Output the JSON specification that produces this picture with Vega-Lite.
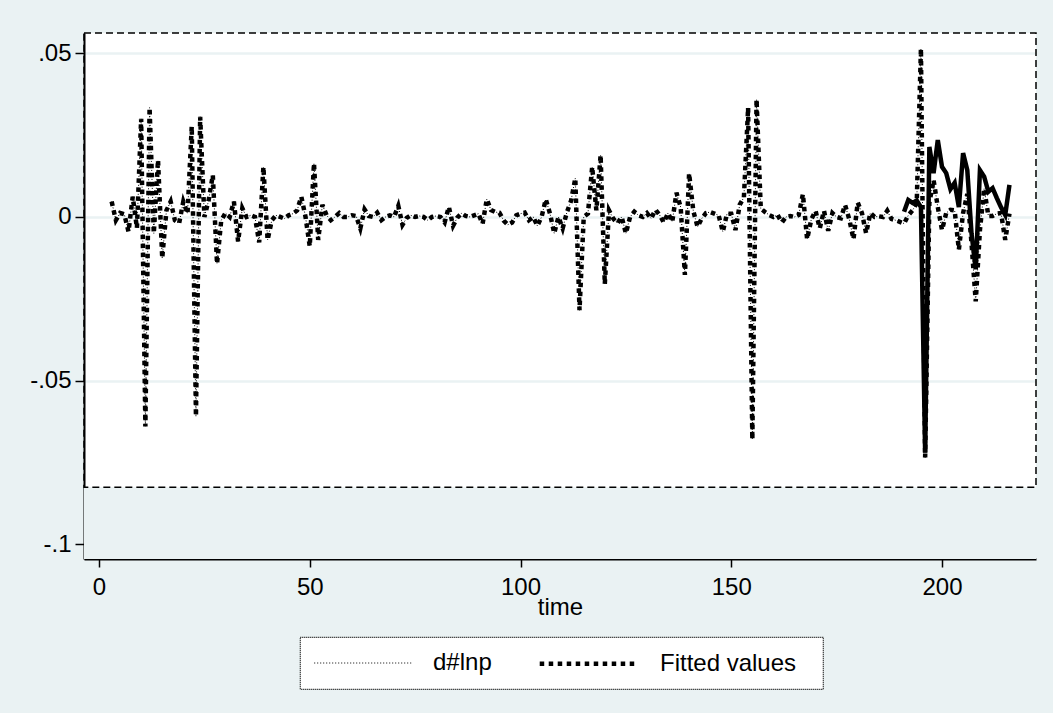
{
  "$schema": "https://vega.github.io/schema/vega-lite/v6.json",
  "width": 952,
  "height": 526,
  "autosize": {"type": "none"},
  "padding": {"left": 84, "top": 33, "right": 17, "bottom": 154},
  "background": "#EAF2F3",
  "config": {
    "font": "Liberation Sans",
    "view": {"stroke": null, "fill": "white"},
    "axis": {"labelColor": "black", "titleColor": "black", "domainColor": "black", "tickColor": "black", "labelFontSize": 24, "titleFontSize": 24, "titleFontWeight": "normal", "labelFont": "Liberation Sans", "titleFont": "Liberation Sans"},
    "legend": {"labelFont": "Liberation Sans"}
  },
  "data": {"values": [
    {"t":3,"d#lnp":0.0047,"Fitted values":0.0047},{"t":4,"d#lnp":-0.001,"Fitted values":-0.001},{"t":5,"d#lnp":0.0012,"Fitted values":0.0012},{"t":6,"d#lnp":0.0008,"Fitted values":0.0008},{"t":7,"d#lnp":-0.0045,"Fitted values":-0.0045},{"t":8,"d#lnp":0.0062,"Fitted values":0.0062},{"t":9,"d#lnp":-0.0034,"Fitted values":-0.0034},{"t":10,"d#lnp":0.030,"Fitted values":0.030},{"t":11,"d#lnp":-0.064,"Fitted values":-0.064},{"t":12,"d#lnp":0.0334,"Fitted values":0.0334},
    {"t":13,"d#lnp":-0.005,"Fitted values":-0.005},{"t":14,"d#lnp":0.0174,"Fitted values":0.0174},{"t":15,"d#lnp":-0.0126,"Fitted values":-0.0126},{"t":16,"d#lnp":0.002,"Fitted values":0.002},{"t":17,"d#lnp":0.0047,"Fitted values":0.0047},{"t":18,"d#lnp":-0.001,"Fitted values":-0.001},{"t":19,"d#lnp":-0.002,"Fitted values":-0.002},{"t":20,"d#lnp":0.0047,"Fitted values":0.0047},{"t":21,"d#lnp":0.001,"Fitted values":0.001},{"t":22,"d#lnp":0.0277,"Fitted values":0.0277},
    {"t":23,"d#lnp":-0.0609,"Fitted values":-0.0609},{"t":24,"d#lnp":0.0306,"Fitted values":0.0306},{"t":25,"d#lnp":0.0,"Fitted values":0.0},{"t":26,"d#lnp":0.005,"Fitted values":0.005},{"t":27,"d#lnp":0.0128,"Fitted values":0.0128},{"t":28,"d#lnp":-0.0143,"Fitted values":-0.0143},{"t":29,"d#lnp":-0.001,"Fitted values":-0.001},{"t":30,"d#lnp":0.0012,"Fitted values":0.0012},{"t":31,"d#lnp":0.0,"Fitted values":0.0},{"t":32,"d#lnp":0.0047,"Fitted values":0.0047},
    {"t":33,"d#lnp":-0.0075,"Fitted values":-0.0075},{"t":34,"d#lnp":0.0027,"Fitted values":0.0027},{"t":35,"d#lnp":0.0,"Fitted values":0.0},{"t":36,"d#lnp":0.0005,"Fitted values":0.0005},{"t":37,"d#lnp":0.0,"Fitted values":0.0},{"t":38,"d#lnp":-0.0078,"Fitted values":-0.0078},{"t":39,"d#lnp":0.0153,"Fitted values":0.0153},{"t":40,"d#lnp":-0.007,"Fitted values":-0.007},{"t":41,"d#lnp":-0.001,"Fitted values":-0.001},{"t":42,"d#lnp":0.0005,"Fitted values":0.0005},
    {"t":43,"d#lnp":0.0,"Fitted values":0.0},{"t":44,"d#lnp":-0.0005,"Fitted values":-0.0005},{"t":45,"d#lnp":0.0005,"Fitted values":0.0005},{"t":46,"d#lnp":0.001,"Fitted values":0.001},{"t":47,"d#lnp":0.002,"Fitted values":0.002},{"t":48,"d#lnp":0.0062,"Fitted values":0.0062},{"t":49,"d#lnp":0.0,"Fitted values":0.0},{"t":50,"d#lnp":-0.009,"Fitted values":-0.009},{"t":51,"d#lnp":0.0164,"Fitted values":0.0164},{"t":52,"d#lnp":-0.007,"Fitted values":-0.007},
    {"t":53,"d#lnp":0.0037,"Fitted values":0.0037},{"t":54,"d#lnp":0.0005,"Fitted values":0.0005},{"t":55,"d#lnp":-0.001,"Fitted values":-0.001},{"t":56,"d#lnp":0.0,"Fitted values":0.0},{"t":57,"d#lnp":0.0012,"Fitted values":0.0012},{"t":58,"d#lnp":0.0,"Fitted values":0.0},{"t":59,"d#lnp":0.0,"Fitted values":0.0},{"t":60,"d#lnp":0.0005,"Fitted values":0.0005},{"t":61,"d#lnp":0.0003,"Fitted values":0.0003},{"t":62,"d#lnp":-0.0035,"Fitted values":-0.0035},
    {"t":63,"d#lnp":0.0023,"Fitted values":0.0023},{"t":64,"d#lnp":0.0003,"Fitted values":0.0003},{"t":65,"d#lnp":0.0,"Fitted values":0.0},{"t":66,"d#lnp":0.0013,"Fitted values":0.0013},{"t":67,"d#lnp":-0.001,"Fitted values":-0.001},{"t":68,"d#lnp":0.0,"Fitted values":0.0},{"t":69,"d#lnp":0.0005,"Fitted values":0.0005},{"t":70,"d#lnp":0.0,"Fitted values":0.0},{"t":71,"d#lnp":0.0034,"Fitted values":0.0034},{"t":72,"d#lnp":-0.0024,"Fitted values":-0.0024},
    {"t":73,"d#lnp":-0.0003,"Fitted values":-0.0003},{"t":74,"d#lnp":0.0005,"Fitted values":0.0005},{"t":75,"d#lnp":0.0,"Fitted values":0.0},{"t":76,"d#lnp":0.0003,"Fitted values":0.0003},{"t":77,"d#lnp":0.0,"Fitted values":0.0},{"t":78,"d#lnp":-0.001,"Fitted values":-0.001},{"t":79,"d#lnp":0.0,"Fitted values":0.0},{"t":80,"d#lnp":0.0003,"Fitted values":0.0003},{"t":81,"d#lnp":0.0,"Fitted values":0.0},{"t":82,"d#lnp":-0.0017,"Fitted values":-0.0017},
    {"t":83,"d#lnp":0.0031,"Fitted values":0.0031},{"t":84,"d#lnp":-0.0027,"Fitted values":-0.0027},{"t":85,"d#lnp":-0.0002,"Fitted values":-0.0002},{"t":86,"d#lnp":0.0011,"Fitted values":0.0011},{"t":87,"d#lnp":0.0003,"Fitted values":0.0003},{"t":88,"d#lnp":0.0,"Fitted values":0.0},{"t":89,"d#lnp":0.0005,"Fitted values":0.0005},{"t":90,"d#lnp":0.001,"Fitted values":0.001},{"t":91,"d#lnp":-0.0021,"Fitted values":-0.0021},{"t":92,"d#lnp":0.0054,"Fitted values":0.0054},
    {"t":93,"d#lnp":0.0021,"Fitted values":0.0021},{"t":94,"d#lnp":0.0015,"Fitted values":0.0015},{"t":95,"d#lnp":0.0013,"Fitted values":0.0013},{"t":96,"d#lnp":-0.0011,"Fitted values":-0.0011},{"t":97,"d#lnp":-0.0024,"Fitted values":-0.0024},{"t":98,"d#lnp":-0.0017,"Fitted values":-0.0017},{"t":99,"d#lnp":0.0005,"Fitted values":0.0005},{"t":100,"d#lnp":0.001,"Fitted values":0.001},{"t":101,"d#lnp":0.0013,"Fitted values":0.0013},{"t":102,"d#lnp":-0.001,"Fitted values":-0.001},
    {"t":103,"d#lnp":0.0,"Fitted values":0.0},{"t":104,"d#lnp":-0.0027,"Fitted values":-0.0027},{"t":105,"d#lnp":0.0,"Fitted values":0.0},{"t":106,"d#lnp":0.0054,"Fitted values":0.0054},{"t":107,"d#lnp":0.001,"Fitted values":0.001},{"t":108,"d#lnp":-0.005,"Fitted values":-0.005},{"t":109,"d#lnp":0.0,"Fitted values":0.0},{"t":110,"d#lnp":-0.0035,"Fitted values":-0.0035},{"t":111,"d#lnp":0.0014,"Fitted values":0.0014},{"t":112,"d#lnp":0.005,"Fitted values":0.005},
    {"t":113,"d#lnp":0.0118,"Fitted values":0.0118},{"t":114,"d#lnp":-0.0285,"Fitted values":-0.0285},{"t":115,"d#lnp":0.0,"Fitted values":0.0},{"t":116,"d#lnp":0.001,"Fitted values":0.001},{"t":117,"d#lnp":0.0153,"Fitted values":0.0153},{"t":118,"d#lnp":0.002,"Fitted values":0.002},{"t":119,"d#lnp":0.0189,"Fitted values":0.0189},{"t":120,"d#lnp":-0.0205,"Fitted values":-0.0205},{"t":121,"d#lnp":0.002,"Fitted values":0.002},{"t":122,"d#lnp":-0.0005,"Fitted values":-0.0005},
    {"t":123,"d#lnp":-0.002,"Fitted values":-0.002},{"t":124,"d#lnp":0.0,"Fitted values":0.0},{"t":125,"d#lnp":-0.005,"Fitted values":-0.005},{"t":126,"d#lnp":0.0,"Fitted values":0.0},{"t":127,"d#lnp":0.0016,"Fitted values":0.0016},{"t":128,"d#lnp":0.0005,"Fitted values":0.0005},{"t":129,"d#lnp":0.0,"Fitted values":0.0},{"t":130,"d#lnp":0.0012,"Fitted values":0.0012},{"t":131,"d#lnp":-0.0005,"Fitted values":-0.0005},{"t":132,"d#lnp":0.0022,"Fitted values":0.0022},
    {"t":133,"d#lnp":0.0006,"Fitted values":0.0006},{"t":134,"d#lnp":-0.0017,"Fitted values":-0.0017},{"t":135,"d#lnp":0.0012,"Fitted values":0.0012},{"t":136,"d#lnp":-0.0015,"Fitted values":-0.0015},{"t":137,"d#lnp":0.0074,"Fitted values":0.0074},{"t":138,"d#lnp":0.003,"Fitted values":0.003},{"t":139,"d#lnp":-0.0177,"Fitted values":-0.0177},{"t":140,"d#lnp":0.0133,"Fitted values":0.0133},{"t":141,"d#lnp":0.0018,"Fitted values":0.0018},{"t":142,"d#lnp":-0.003,"Fitted values":-0.003},
    {"t":143,"d#lnp":-0.0005,"Fitted values":-0.0005},{"t":144,"d#lnp":0.0012,"Fitted values":0.0012},{"t":145,"d#lnp":0.0015,"Fitted values":0.0015},{"t":146,"d#lnp":0.001,"Fitted values":0.001},{"t":147,"d#lnp":0.0005,"Fitted values":0.0005},{"t":148,"d#lnp":-0.0045,"Fitted values":-0.0045},{"t":149,"d#lnp":0.001,"Fitted values":0.001},{"t":150,"d#lnp":0.001,"Fitted values":0.001},{"t":151,"d#lnp":-0.004,"Fitted values":-0.004},{"t":152,"d#lnp":0.0037,"Fitted values":0.0037},
    {"t":153,"d#lnp":0.006,"Fitted values":0.006},{"t":154,"d#lnp":0.0334,"Fitted values":0.0334},{"t":155,"d#lnp":-0.068,"Fitted values":-0.068},{"t":156,"d#lnp":0.0359,"Fitted values":0.0359},{"t":157,"d#lnp":0.0026,"Fitted values":0.0026},{"t":158,"d#lnp":0.0015,"Fitted values":0.0015},{"t":159,"d#lnp":0.0006,"Fitted values":0.0006},{"t":160,"d#lnp":0.0,"Fitted values":0.0},{"t":161,"d#lnp":0.0006,"Fitted values":0.0006},{"t":162,"d#lnp":-0.0017,"Fitted values":-0.0017},
    {"t":163,"d#lnp":0.0,"Fitted values":0.0},{"t":164,"d#lnp":0.0003,"Fitted values":0.0003},{"t":165,"d#lnp":0.0,"Fitted values":0.0},{"t":166,"d#lnp":0.0006,"Fitted values":0.0006},{"t":167,"d#lnp":0.007,"Fitted values":0.007},{"t":168,"d#lnp":-0.0068,"Fitted values":-0.0068},{"t":169,"d#lnp":-0.0007,"Fitted values":-0.0007},{"t":170,"d#lnp":0.0019,"Fitted values":0.0019},{"t":171,"d#lnp":-0.0035,"Fitted values":-0.0035},{"t":172,"d#lnp":0.0019,"Fitted values":0.0019},
    {"t":173,"d#lnp":-0.0042,"Fitted values":-0.0042},{"t":174,"d#lnp":0.0012,"Fitted values":0.0012},{"t":175,"d#lnp":0.0,"Fitted values":0.0},{"t":176,"d#lnp":-0.0004,"Fitted values":-0.0004},{"t":177,"d#lnp":0.0037,"Fitted values":0.0037},{"t":178,"d#lnp":-0.0007,"Fitted values":-0.0007},{"t":179,"d#lnp":-0.0068,"Fitted values":-0.0068},{"t":180,"d#lnp":0.0044,"Fitted values":0.0044},{"t":181,"d#lnp":0.0012,"Fitted values":0.0012},{"t":182,"d#lnp":-0.005,"Fitted values":-0.005},
    {"t":183,"d#lnp":0.0012,"Fitted values":0.0012},{"t":184,"d#lnp":0.0,"Fitted values":0.0},{"t":185,"d#lnp":0.0002,"Fitted values":0.0002},{"t":186,"d#lnp":0.0,"Fitted values":0.0},{"t":187,"d#lnp":0.0019,"Fitted values":0.0019},{"t":188,"d#lnp":-0.0006,"Fitted values":-0.0006},{"t":189,"d#lnp":-0.001,"Fitted values":-0.001},{"t":190,"d#lnp":-0.0015,"Fitted values":-0.0015},
    {"t":191,"d#lnp":-0.002,"Fitted values":-0.002,"forecast":0.0016},{"t":192,"d#lnp":0.0005,"Fitted values":0.0005,"forecast":0.0052},{"t":193,"d#lnp":0.002,"Fitted values":0.002,"forecast":0.0043},{"t":194,"d#lnp":0.0042,"Fitted values":0.0042,"forecast":0.005},{"t":195,"d#lnp":0.0514,"Fitted values":0.0514,"forecast":0.003},{"t":196,"d#lnp":-0.0735,"Fitted values":-0.0735,"forecast":-0.072},{"t":197,"d#lnp":0.0043,"Fitted values":0.0043,"forecast":0.0214},{"t":198,"d#lnp":0.0113,"Fitted values":0.0113,"forecast":0.0134},{"t":199,"d#lnp":0.003,"Fitted values":0.003,"forecast":0.0235},{"t":200,"d#lnp":-0.004,"Fitted values":-0.004,"forecast":0.0153},
    {"t":201,"d#lnp":0.0012,"Fitted values":0.0012,"forecast":0.0134},{"t":202,"d#lnp":0.0022,"Fitted values":0.0022,"forecast":0.0085},{"t":203,"d#lnp":0.002,"Fitted values":0.002,"forecast":0.0104},{"t":204,"d#lnp":-0.010,"Fitted values":-0.010,"forecast":0.003},{"t":205,"d#lnp":0.0012,"Fitted values":0.0012,"forecast":0.0195},{"t":206,"d#lnp":0.007,"Fitted values":0.007,"forecast":0.0143},{"t":207,"d#lnp":-0.008,"Fitted values":-0.008,"forecast":-0.005},{"t":208,"d#lnp":-0.0258,"Fitted values":-0.0258,"forecast":-0.016},{"t":209,"d#lnp":-0.004,"Fitted values":-0.004,"forecast":0.0143},{"t":210,"d#lnp":0.0087,"Fitted values":0.0087,"forecast":0.0123},
    {"t":211,"d#lnp":0.0003,"Fitted values":0.0003,"forecast":0.0077},{"t":212,"d#lnp":0.0003,"Fitted values":0.0003,"forecast":0.0088},{"t":213,"d#lnp":0.001,"Fitted values":0.001,"forecast":0.0058},{"t":214,"d#lnp":0.0012,"Fitted values":0.0012,"forecast":0.003},{"t":215,"d#lnp":-0.007,"Fitted values":-0.007,"forecast":0.0006},{"t":216,"d#lnp":0.001,"Fitted values":0.001,"forecast":0.0098}
  ]},
  "layer": [
    {
      "data": {"values": [{}]},
      "mark": {"type": "rect", "fill": "#EAF2F3"},
      "encoding": {
        "x": {"datum": -3.56, "type": "quantitative", "scale": {"domain": [-3.56, 222.3], "nice": false, "zero": false}},
        "x2": {"datum": 222.3},
        "y": {"datum": -0.0826, "type": "quantitative", "scale": {"domain": [-0.1045, 0.0562], "nice": false, "zero": false}},
        "y2": {"datum": -0.1045}
      }
    },
    {
      "data": {"values": [{}]},
      "mark": {"type": "rect", "fillOpacity": 0, "stroke": "black", "strokeWidth": 1.5, "strokeDash": [7, 4]},
      "encoding": {
        "x": {"datum": -3.56, "type": "quantitative"},
        "x2": {"datum": 222.3},
        "y": {"datum": 0.0562, "type": "quantitative"},
        "y2": {"datum": -0.0826}
      }
    },
    {
      "transform": [{"fold": ["d#lnp", "Fitted values"], "as": ["series", "value"]}],
      "mark": {"type": "line", "color": "black", "strokeCap": "butt"},
      "encoding": {
        "x": {"field": "t", "type": "quantitative",
          "axis": {"values": [0, 50, 100, 150, 200], "format": "d", "grid": false, "domainWidth": 2, "tickWidth": 1.5, "tickSize": 8, "labelPadding": 8, "title": "time", "titlePadding": -4}},
        "y": {"field": "value", "type": "quantitative",
          "axis": {"values": [-0.1, -0.05, 0, 0.05], "labelExpr": "datum.value == 0 ? '0' : (datum.value < 0 ? '-' : '') + replace(format(abs(datum.value), '.2~f'), '0.', '.')", "grid": true, "gridColor": "#EAF2F3", "gridWidth": 2.5, "domainWidth": 2, "tickWidth": 1.5, "tickSize": 9, "labelPadding": 4, "labelAngle": 0, "title": null}},
        "strokeDash": {"field": "series", "type": "nominal",
          "scale": {"domain": ["d#lnp", "Fitted values"], "range": [[1, 2], [4.5, 4.5]]},
          "legend": {"orient": "none", "legendX": 216, "legendY": 604, "direction": "horizontal", "title": " ", "titleOrient": "right", "titlePadding": 14, "titleFontSize": 10, "symbolType": "M-1,0H8", "symbolSize": 465, "symbolStrokeColor": "black", "labelFontSize": 24, "labelColor": "black", "labelOffset": 96, "columnPadding": 38, "padding": 13, "strokeColor": "black", "fillColor": "white", "encode": {"legend": {"update": {"strokeDash": {"value": [1, 1]}, "strokeWidth": {"value": 1.2}}}}}},
        "strokeWidth": {"field": "series", "type": "nominal",
          "scale": {"domain": ["d#lnp", "Fitted values"], "range": [1, 4.5]},
          "legend": {"orient": "none", "legendX": 216, "legendY": 604, "direction": "horizontal", "title": " ", "titleOrient": "right", "titlePadding": 14, "titleFontSize": 10, "symbolType": "M-1,0H8", "symbolSize": 465, "symbolStrokeColor": "black", "labelFontSize": 24, "labelColor": "black", "labelOffset": 96, "columnPadding": 38, "padding": 13, "strokeColor": "black", "fillColor": "white", "encode": {"legend": {"update": {"strokeDash": {"value": [1, 1]}, "strokeWidth": {"value": 1.2}}}}}}
      }
    },
    {
      "mark": {"type": "line", "color": "black", "strokeWidth": 4.5, "strokeJoin": "miter"},
      "encoding": {
        "x": {"field": "t", "type": "quantitative"},
        "y": {"field": "forecast", "type": "quantitative"}
      }
    }
  ]
}
